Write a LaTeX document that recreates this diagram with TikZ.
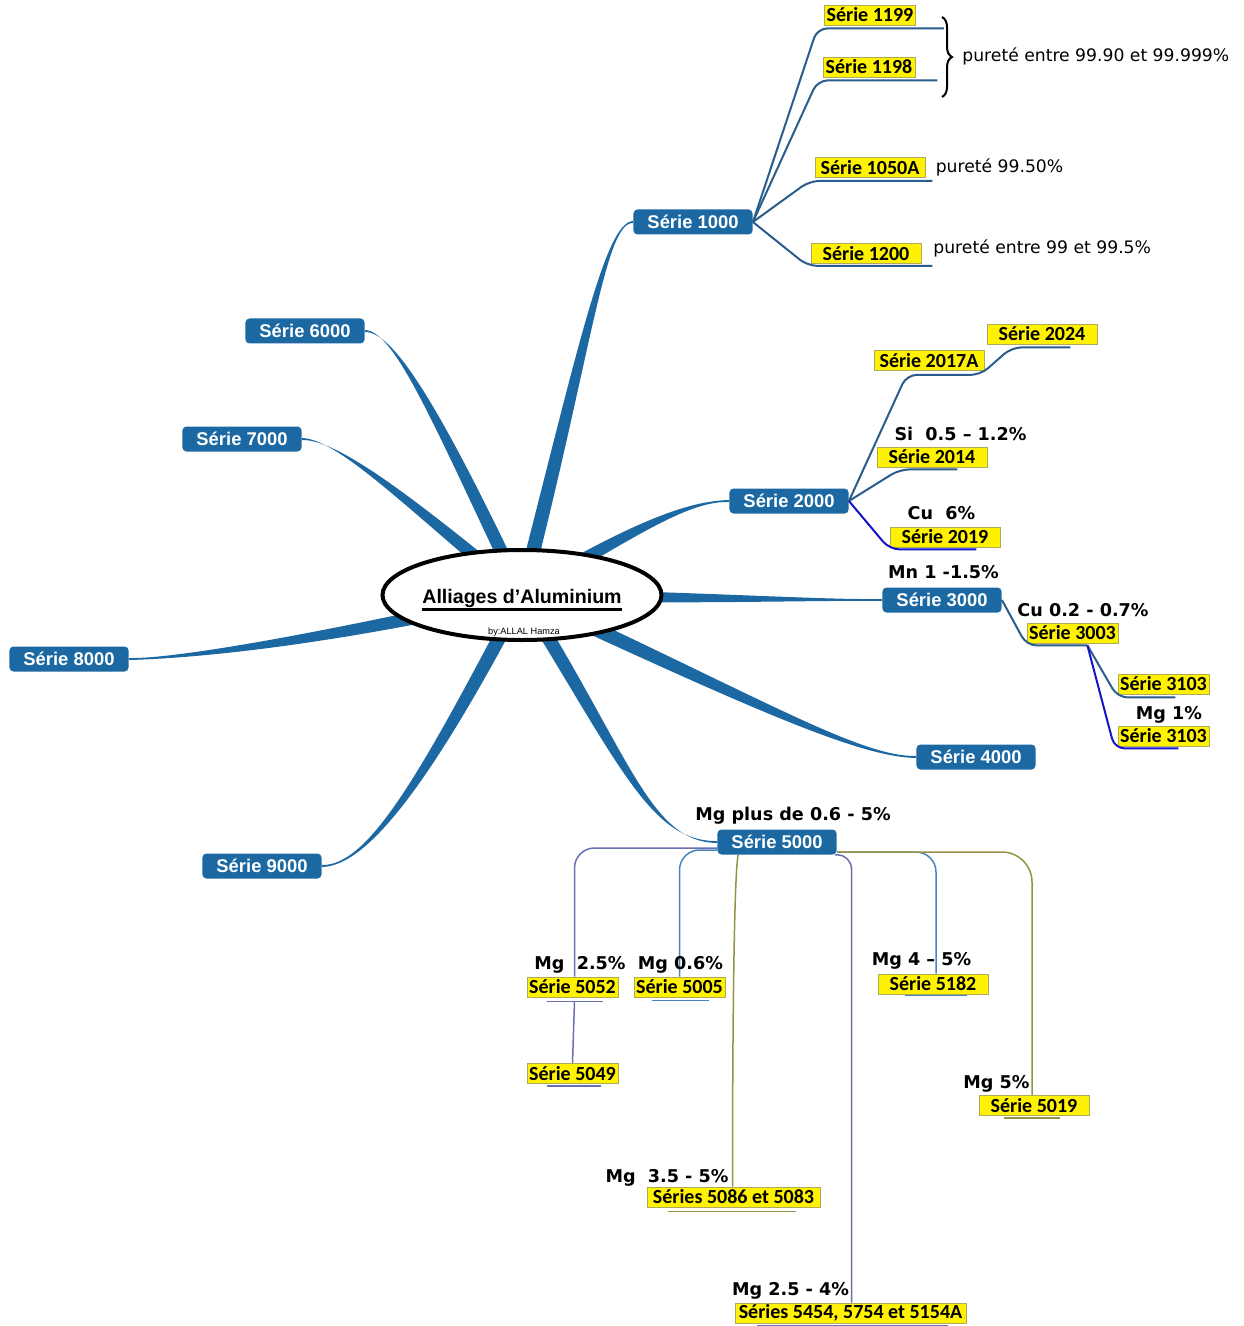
\documentclass[tikz,border=0pt]{standalone}
\usepackage{fontspec}
\setmainfont{Liberation Sans}
\newfontfamily\dejavu{DejaVu Sans}
\newfontfamily\calib{Carlito}
\usepackage{xcolor}
\usepackage{tikz}
\usetikzlibrary{shapes,arrows,positioning,calc,shapes.geometric,backgrounds,decorations.pathreplacing}

\definecolor{mapblue}{RGB}{28,104,163}
\definecolor{subblue}{RGB}{42,92,140}
\definecolor{deepblue}{RGB}{20,20,200}
\definecolor{mapgrey}{RGB}{104,112,176}
\definecolor{mapsteel}{RGB}{72,132,186}
\definecolor{mapolive}{RGB}{150,145,70}
\definecolor{boxedge}{RGB}{175,170,90}

% tapered main branch: start, control 1, control 2, end, half width
\newcommand{\taperbranch}[5]{%
  \fill[mapblue] ($#1+#5$) .. controls ($#2+#5$) and #3 .. ($#4+(0,1)$)
    -- ($#4-(0,1)$) .. controls #3 and ($#2-#5$) .. ($#1-#5$) -- cycle;}

\begin{document}
\begin{tikzpicture}[x=0.5pt, y=-0.5pt]
    \tikzstyle{serie} = [rectangle, rounded corners=2pt, fill=mapblue, text=white, font=\bfseries\fontsize{9.2}{10}\selectfont, inner xsep=7pt, inner ysep=0pt, minimum height=12.5pt]
    \tikzstyle{ybox} = [rectangle, fill=yellow, draw=boxedge, line width=0.4pt, font=\calib\bfseries\fontsize{10}{11}\selectfont, inner xsep=1pt, inner ysep=0pt, minimum height=10pt]
    \tikzstyle{lbl} = [font=\dejavu\bfseries\fontsize{8.8}{10}\selectfont, inner sep=0pt, anchor=base]
    \tikzstyle{note} = [font=\dejavu\fontsize{8.6}{10}\selectfont, inner sep=0pt, anchor=base west]
    \tikzstyle{sub} = [draw=subblue, line width=1pt, rounded corners=5pt]
    \tikzstyle{fine} = [line width=0.75pt, rounded corners=10pt]

    \useasboundingbox (0,0) rectangle (1243,1326);

    % centre
    \node [ellipse, draw, line width=2pt, fill=white, minimum width=139.5pt, minimum height=45pt, inner sep=0pt] (hub) at (522,595) {};
    \node [font=\bfseries\fontsize{9.8}{11}\selectfont, anchor=base, inner sep=0pt] (title) at (522,603) {Alliages d’Aluminium};
    \draw [line width=1.5pt] ([yshift=-3pt]title.base west) -- ([yshift=-3pt]title.base east);
    \node [font=\fontsize{4.6}{5}\selectfont, anchor=base, inner sep=0pt] (author) at (524,634) {by:ALLAL Hamza};

    % main series
    \node [serie] (s1000) at (693,222) {Série 1000};
    \node [serie] (s2000) at (789,501) {Série 2000};
    \node [serie] (s3000) at (942,600) {Série 3000};
    \node [serie] (s4000) at (976,757) {Série 4000};
    \node [serie] (s5000) at (777,842) {Série 5000};
    \node [serie] (s6000) at (305,331) {Série 6000};
    \node [serie] (s7000) at (242,439) {Série 7000};
    \node [serie] (s8000) at (69,659) {Série 8000};
    \node [serie] (s9000) at (262,866) {Série 9000};

    \begin{scope}[on background layer]
        \taperbranch{(hub)}{(585,350)}{(605,222)}{(s1000.west)}{(7,1.7)}
        \taperbranch{(hub)}{(439,420)}{(395,331)}{(s6000.east)}{(6,-3)}
        \taperbranch{(hub)}{(420,512)}{(340,439)}{(s7000.east)}{(4.2,-5.3)}
        \taperbranch{(hub)}{(300,645)}{(170,659)}{(s8000.east)}{(1.5,6.8)}
        \taperbranch{(hub)}{(430,770)}{(370,866)}{(s9000.east)}{(6.2,3.2)}
        \taperbranch{(hub)}{(625,760)}{(650,842)}{(s5000.west)}{(6.2,-3.1)}
        \taperbranch{(hub)}{(760,705)}{(860,757)}{(s4000.west)}{(-3,6.6)}
        \taperbranch{(hub)}{(700,598)}{(820,600)}{(s3000.west)}{(0,6.3)}
        \taperbranch{(hub)}{(640,525)}{(690,501)}{(s2000.west)}{(3.5,6)}
    \end{scope}

    % Série 1000
    \node [ybox, minimum width=45pt] (b1199) at (870,15) {Série 1199};
    \node [ybox, minimum width=46pt] (b1198) at (869,67) {Série 1198};
    \node [ybox, minimum width=55pt] (b1050) at (870,167.5) {Série 1050A};
    \node [ybox, minimum width=55pt] (b1200) at (866,253.5) {Série 1200};
    \draw [sub] (s1000.east) -- ([xshift=-3.5pt,yshift=-1.5pt]b1199.south west) -- ([xshift=14pt,yshift=-1.5pt]b1199.south east);
    \draw [sub] (s1000.east) -- ([xshift=-2.5pt,yshift=-1.5pt]b1198.south west) -- ([xshift=11pt,yshift=-1.5pt]b1198.south east);
    \draw [sub] (s1000.east) -- ([xshift=-2.5pt,yshift=-1.5pt]b1050.south west) -- ([xshift=3.5pt,yshift=-1.5pt]b1050.south east);
    \draw [sub] (s1000.east) -- ([xshift=-1.5pt,yshift=-1pt]b1200.south west) -- ([xshift=5.5pt,yshift=-1pt]b1200.south east);
    \draw [decorate, decoration={brace, amplitude=5pt}, line width=1pt] (942,17) -- (942,97);
    \node [note] (n1199) at (962,62) {pureté entre 99.90 et 99.999\%};
    \node [note, right=5pt of b1050] (n1050) {pureté 99.50\%};
    \node [note] (n1200) at (933,254) {pureté entre 99 et 99.5\%};

    % Série 2000
    \node [ybox, minimum width=55pt] (b2017) at (929,360.5) {Série 2017A};
    \node [ybox, minimum width=55pt] (b2024) at (1042,334) {Série 2024};
    \node [ybox, minimum width=55pt] (b2014) at (932,457) {Série 2014};
    \node [ybox, minimum width=55pt] (b2019) at (945,537) {Série 2019};
    \draw [sub] (s2000.east) -- ([xshift=16.5pt,yshift=-2pt]b2017.south west) -- ([xshift=-2pt,yshift=-2pt]b2017.south east)
        -- ([xshift=12.5pt,yshift=-1.5pt]b2024.south west) -- ([xshift=-13.5pt,yshift=-1.5pt]b2024.south east);
    \draw [sub] (s2000.east) -- ([xshift=11.5pt,yshift=-1pt]b2014.south west) -- ([xshift=-15pt,yshift=-1pt]b2014.south east);
    \draw [sub, draw=deepblue] (s2000.east) -- ([yshift=-1pt]b2019.south west) -- ([xshift=-12pt,yshift=-1pt]b2019.south east);
    \node [lbl] (l2014) at (960.5,440) {Si\ \ 0.5 – 1.2\%};
    \node [lbl] (l2019) at (941.5,519) {Cu\ \ 6\%};

    % Série 3000
    \node [lbl] (l3000) at (943.5,578) {Mn 1 -1.5\%};
    \node [ybox, minimum width=45.5pt] (b3003) at (1072.5,633) {Série 3003};
    \node [ybox, minimum width=45.5pt] (b3103a) at (1163.5,684) {Série 3103};
    \node [ybox, minimum width=45.5pt] (b3103b) at (1163.5,736) {Série 3103};
    \draw [sub] (s3000.east) -- ([yshift=-1pt]b3003.south west) -- ([xshift=-15.5pt,yshift=-1pt]b3003.south east);
    \draw [sub] ([xshift=-15.5pt,yshift=-1pt]b3003.south east) -- ([yshift=-1.5pt]b3103a.south west) -- ([xshift=-17pt,yshift=-1.5pt]b3103a.south east);
    \draw [sub, draw=deepblue] ([xshift=-15.5pt,yshift=-1pt]b3003.south east) -- ([xshift=-1.5pt,yshift=-1pt]b3103b.south west) -- ([xshift=-15.5pt,yshift=-1pt]b3103b.south east);
    \node [lbl] (l3003) at (1083,616) {Cu 0.2 - 0.7\%};
    \node [lbl] (l3103) at (1169,719) {Mg 1\%};

    % Série 5000
    \node [lbl] (l5000) at (793,820) {Mg plus de 0.6 - 5\%};
    \node [ybox, minimum width=45.5pt] (b5052) at (572.5,987) {Série 5052};
    \node [ybox, minimum width=45.5pt] (b5005) at (679.5,987) {Série 5005};
    \node [ybox, minimum width=45.5pt] (b5049) at (572.5,1073.5) {Série 5049};
    \node [ybox, minimum width=55pt] (b5182) at (933,984) {Série 5182};
    \node [ybox, minimum width=55pt] (b5019) at (1034,1105.5) {Série 5019};
    \node [ybox, minimum width=86.5pt] (b5086) at (733.5,1197) {Séries 5086 et 5083};
    \node [ybox, minimum width=115.5pt] (b5454) at (850.5,1313) {Séries 5454, 5754 et 5154A};

    \draw [fine, mapgrey] ([yshift=-3pt]s5000.west) -| ([xshift=1pt]b5052.north);
    \draw [fine, mapgrey] ([xshift=-13pt,yshift=-2pt]b5052.south) -- ([xshift=15pt,yshift=-2pt]b5052.south);
    \draw [fine, mapgrey] ([xshift=1pt,yshift=-2pt]b5052.south) -- (b5049.north);
    \draw [fine, mapgrey] ([xshift=-13pt,yshift=-1pt]b5049.south) -- ([xshift=14pt,yshift=-1pt]b5049.south);
    \draw [fine, mapsteel] ([yshift=-4pt]s5000.west) -| (b5005.north);
    \draw [fine, mapsteel] ([xshift=-14pt,yshift=-1.5pt]b5005.south) -- ([xshift=14.5pt,yshift=-1.5pt]b5005.south);
    \draw [fine, mapolive] ([xshift=10.5pt]s5000.south west) to[out=-100,in=90,looseness=0.25] ([xshift=-0.5pt]b5086.north);
    \draw [fine, mapolive] ([xshift=-33pt,yshift=-2pt]b5086.south) -- ([xshift=31pt,yshift=-2pt]b5086.south);
    \draw [fine, mapgrey, rounded corners=7pt] ([xshift=-1pt]s5000.south east) -| ([xshift=0.5pt]b5454.north);
    \draw [fine, mapgrey] ([xshift=-46.75pt,yshift=-1pt]b5454.south) -- ([xshift=48.75pt,yshift=-1pt]b5454.south);
    \draw [fine, mapsteel] ([yshift=-5pt]s5000.east) -| ([xshift=1.5pt]b5182.north);
    \draw [fine, mapsteel] ([xshift=-14pt,yshift=-0.5pt]b5182.south) -- ([xshift=17pt,yshift=-0.5pt]b5182.south);
    \draw [fine, mapolive, rounded corners=15pt] ([yshift=-5pt]s5000.east) -| ([xshift=-1pt]b5019.north);
    \draw [fine, mapolive] ([xshift=-15pt,yshift=-1pt]b5019.south) -- ([xshift=13pt,yshift=-1pt]b5019.south);

    \node [lbl] (l5052) at (580,969) {Mg\ \ 2.5\%};
    \node [lbl] (l5005) at (680.5,969) {Mg 0.6\%};
    \node [lbl] (l5182) at (921.5,965) {Mg 4 – 5\%};
    \node [lbl] (l5019) at (996.5,1088) {Mg 5\%};
    \node [lbl] (l5086) at (667,1182) {Mg\ \ 3.5 - 5\%};
    \node [lbl] (l5454) at (790.5,1295) {Mg 2.5 - 4\%};
\end{tikzpicture}
\end{document}
